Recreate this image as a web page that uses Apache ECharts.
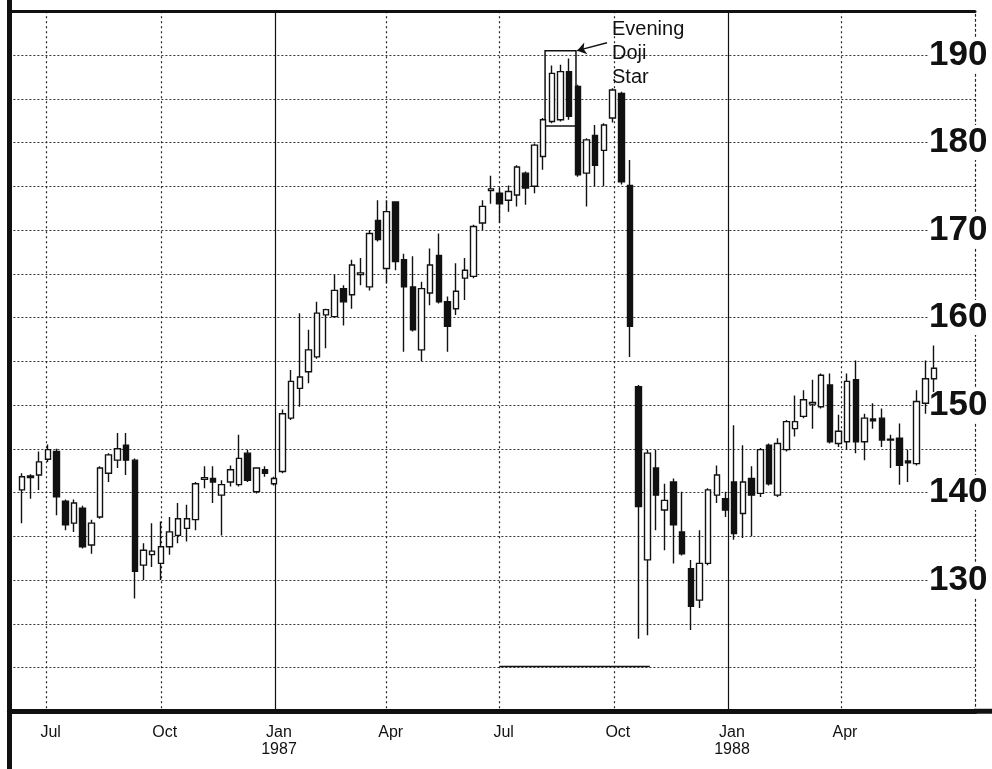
<!DOCTYPE html>
<html><head><meta charset="utf-8">
<script src="https://cdn.jsdelivr.net/npm/echarts@6/dist/echarts.min.js"></script>
<style>html,body{margin:0;padding:0;background:#fff}#c{width:992px;height:769px}</style>
</head><body><div id="c"></div><script>
// weekly bars, first bar dated:
const firstWeek = '1986-06-11';
const openP  = [140.3,141.9,142.0,143.8,144.7,139.0,136.5,138.2,134.0,137.2,142.2,143.7,145.4,143.7,131.7,132.9,131.9,133.8,135.1,135.9,136.9,141.5,141.6,139.7,141.2,140.9,144.5,140.1,142.6,141.0,142.4,148.5,151.9,153.8,155.5,160.3,160.1,163.3,162.6,164.9,163.5,171.1,165.6,173.2,166.6,163.5,156.3,162.8,167.1,161.8,161.0,164.5,164.7,170.8,174.5,174.2,173.4,174.0,176.5,175.0,178.4,182.4,182.6,188.1,186.4,176.5,180.8,179.1,182.8,185.6,175.1,152.1,132.3,142.8,138.0,141.2,135.5,131.3,127.7,131.9,139.7,139.3,141.2,137.6,141.6,139.9,145.4,139.7,144.9,147.3,148.7,150.1,149.8,152.3,145.6,145.8,152.9,145.8,148.4,148.5,146.1,146.2,143.6,143.3,150.2,153.0];
const closeP = [141.8,141.7,143.5,144.9,139.5,136.3,138.8,133.8,136.5,142.8,144.3,145.0,143.7,131.0,133.4,133.3,133.8,135.5,137.0,137.0,141.0,141.7,141.2,140.9,142.6,143.9,141.4,142.8,142.2,141.6,149.0,152.7,153.2,156.3,160.5,160.9,163.1,161.8,166.0,165.1,169.6,168.9,172.1,166.4,163.5,158.6,163.3,166.0,161.8,159.0,163.0,165.4,170.4,172.7,174.7,173.0,174.4,177.2,174.8,179.7,182.6,187.9,188.1,183.0,176.3,180.3,177.4,182.0,186.0,175.5,159.0,138.4,144.5,139.7,139.1,136.3,133.0,127.0,131.9,140.3,142.0,138.0,135.3,141.2,139.7,144.9,141.0,145.6,148.1,148.1,150.6,150.3,153.4,145.8,147.0,152.7,145.8,148.5,148.2,146.0,146.0,143.1,143.4,150.4,153.0,154.2];
const lowP   = [136.5,139.3,140.3,143.5,137.4,135.7,135.5,133.6,133.0,137.0,141.2,142.8,142.0,127.9,130.0,131.5,130.0,132.9,134.2,134.4,135.7,140.5,138.8,135.1,140.7,140.7,141.2,139.9,141.8,140.8,142.2,148.3,149.8,152.5,155.3,156.5,160.0,159.1,161.0,163.7,163.1,168.7,163.9,165.4,156.1,158.4,155.0,161.4,161.6,156.1,160.3,162.0,164.5,170.0,173.0,170.8,172.1,172.7,172.9,174.2,176.9,182.2,182.4,182.6,176.1,172.7,175.0,175.0,182.3,175.2,155.5,123.3,123.7,135.7,133.4,131.9,132.8,124.3,126.8,131.7,138.8,137.2,134.6,134.8,135.0,139.5,140.8,139.5,144.7,146.4,148.5,147.3,149.6,145.6,145.2,144.9,144.5,143.7,147.3,145.2,142.8,140.9,141.2,143.1,149.0,151.5];
const highP  = [142.2,142.1,144.7,145.5,145.0,139.2,139.2,138.5,136.9,143.0,144.5,146.8,146.8,143.9,134.2,136.5,136.7,137.2,138.8,138.6,141.2,143.0,143.0,141.4,143.1,146.6,144.9,142.9,143.0,141.8,149.5,154.0,160.5,158.6,161.8,161.0,164.9,163.7,166.6,166.8,170.0,173.4,173.4,173.3,167.3,167.0,164.1,167.9,169.6,162.4,166.2,166.8,170.6,173.4,176.2,174.8,175.1,177.4,176.7,179.9,182.8,188.8,188.9,189.6,186.6,180.5,182.0,182.2,186.2,185.8,178.0,152.3,144.9,144.9,141.0,141.6,140.1,132.3,135.7,140.5,143.1,140.1,147.7,145.4,143.0,145.1,145.6,146.2,148.3,151.1,151.7,152.9,153.6,153.6,148.9,153.6,155.1,149.0,150.2,149.6,146.6,147.9,144.9,151.7,155.1,156.8];
const quarterDates  = ['1986-07-01','1986-10-01','1987-01-01','1987-04-01','1987-07-01','1987-10-01','1988-01-01','1988-04-01'];
const quarterLabels = ['Jul','Oct','Jan\n1987','Apr','Jul','Oct','Jan\n1988','Apr'];
const yearStarts = ['1987-01-01','1988-01-01'];
const priceLabels = [130,140,150,160,170,180,190];
const noteText = 'Evening\nDoji\nStar';

const base = Date.UTC(1986,0,1);
const dayOf = s => Math.round((Date.parse(s + 'T00:00:00Z') - base) / 86400000);
const d0 = dayOf(firstWeek);
const data = openP.map((o, i) => [d0 + 7 * i, o, closeP[i], lowP[i], highP[i]]);
const qDays = quarterDates.map(dayOf);
const jDays = yearStarts.map(dayOf);
const dotted = qDays.filter(d => jDays.indexOf(d) < 0);
const xMin = dayOf('1986-06-01'), xMax = dayOf('1988-07-18');

const chart = echarts.init(document.getElementById('c'), null, {renderer: 'canvas'});
chart.setOption({
  animation: false,
  backgroundColor: '#fff',
  grid: {left: 9.4, width: 965.6, top: 11.25, height: 700},
  xAxis: [{
    type: 'value', min: xMin, max: xMax, position: 'bottom',
    axisLine: {show: true, lineStyle: {color: '#111', width: 5}},
    axisTick: {show: false, customValues: dotted},
    axisLabel: {
      customValues: qDays, margin: 13, padding: [0, 0, 0, 8],
      formatter: v => quarterLabels[qDays.indexOf(v)] || '',
      fontFamily: 'Liberation Sans', fontSize: 16, lineHeight: 17, color: '#111'
    },
    splitLine: {show: true, lineStyle: {color: '#222', type: [2, 3], width: 1.2}}
  }, {
    type: 'value', min: xMin, max: xMax, position: 'top',
    axisLine: {show: true, lineStyle: {color: '#111', width: 3}},
    axisTick: {show: false, customValues: jDays},
    axisLabel: {show: false},
    splitLine: {show: true, lineStyle: {color: '#111', type: 'solid', width: 1.2}}
  }],
  yAxis: {
    type: 'value', min: 115, max: 195, interval: 5, position: 'right',
    axisLine: {show: true, lineStyle: {color: '#222', type: [2, 3], width: 1.2}},
    axisTick: {show: false},
    axisLabel: {
      customValues: priceLabels, inside: false, margin: -47,
      fontFamily: 'Liberation Sans', fontWeight: 'bold', fontSize: 35, color: '#111',
      backgroundColor: '#fff', padding: [0, 1]
    },
    splitLine: {show: true, lineStyle: {color: '#333', type: [2, 2], width: 1}}
  },
  graphic: [
    {type: 'rect', shape: {x: 7, y: 0, width: 5, height: 769}, style: {fill: '#111'}, z: 100},
    {type: 'rect', shape: {x: 974, y: 708.75, width: 18, height: 5}, style: {fill: '#111'}, z: 100},
    {type: 'text', x: 612, y: 17, style: {text: noteText, font: '20px "Liberation Sans"', lineHeight: 24, fill: '#111'}, z: 100}
  ],
  series: [{
    type: 'candlestick',
    data: data,
    encode: {x: 0, y: [1, 2, 3, 4]},
    barWidth: 6,
    itemStyle: {color: '#fff', color0: '#111', borderColor: '#111', borderColor0: '#111', borderWidth: 1.4},
    markArea: {
      silent: true,
      itemStyle: {color: 'rgba(0,0,0,0)', borderColor: '#111', borderWidth: 1.5},
      data: [[{xAxis: 582.6, yAxis: 190.5}, {xAxis: 607.5, yAxis: 181.9}]]
    },
    markLine: {
      silent: true, symbol: 'none', label: {show: false},
      lineStyle: {color: '#111', type: 'solid', width: 1.3},
      data: [
        [{coord: [608.4, 190.5], symbol: 'arrow', symbolSize: 9}, {coord: [632.5, 191.4], symbol: 'none'}],
        [{coord: [546, 120.1]}, {coord: [667, 120.1]}]
      ]
    }
  }]
});
</script></body></html>
